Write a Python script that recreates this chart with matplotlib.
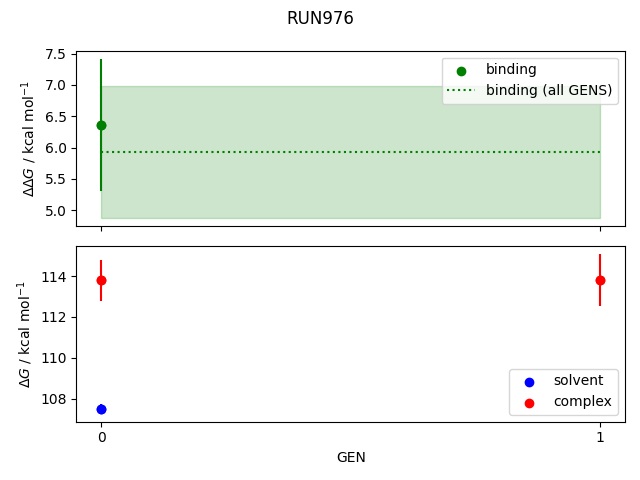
import numpy as np
import matplotlib
matplotlib.use("Agg")
import matplotlib.pyplot as plt

run_name = "RUN976"

# binding free energy per GEN
gens_binding = [0]
binding = [6.36]
binding_err = [1.06]

# estimate over all GENS
binding_all = 5.925
binding_all_err = 1.055

# solvent / complex
gens_solvent = [0]
solvent = [107.5]
solvent_err = [0.23]

gens_complex = [0, 1]
complex_ = [113.8, 113.8]
complex_err = [1.0, 1.27]

fig, axes = plt.subplots(2, 1, sharex=True, figsize=(6.4, 4.8))

ax = axes[0]
ax.scatter(gens_binding, binding, color="green", label="binding")
ax.errorbar(gens_binding, binding, yerr=binding_err, color="green", fmt="o")
xs = [0, max(gens_complex)]
ax.hlines(binding_all, xs[0], xs[1], color="green", linestyle=":", label="binding (all GENS)")
ax.fill_between(xs, binding_all - binding_all_err, binding_all + binding_all_err,
                color="green", alpha=0.2)
ax.set_ylabel(r"$\Delta\Delta G$ / kcal mol$^{-1}$")
ax.legend(loc="upper right")

ax = axes[1]
ax.scatter(gens_solvent, solvent, color="blue", label="solvent")
ax.errorbar(gens_solvent, solvent, yerr=solvent_err, color="blue", fmt="o")
ax.scatter(gens_complex, complex_, color="red", label="complex")
ax.errorbar(gens_complex, complex_, yerr=complex_err, color="red", fmt="o")
ax.set_ylabel(r"$\Delta G$ / kcal mol$^{-1}$")
ax.set_xlabel("GEN")
ax.set_xticks([0, 1])
ax.legend()

fig.suptitle(run_name)
fig.tight_layout()
fig.savefig("out.png", dpi=100)
